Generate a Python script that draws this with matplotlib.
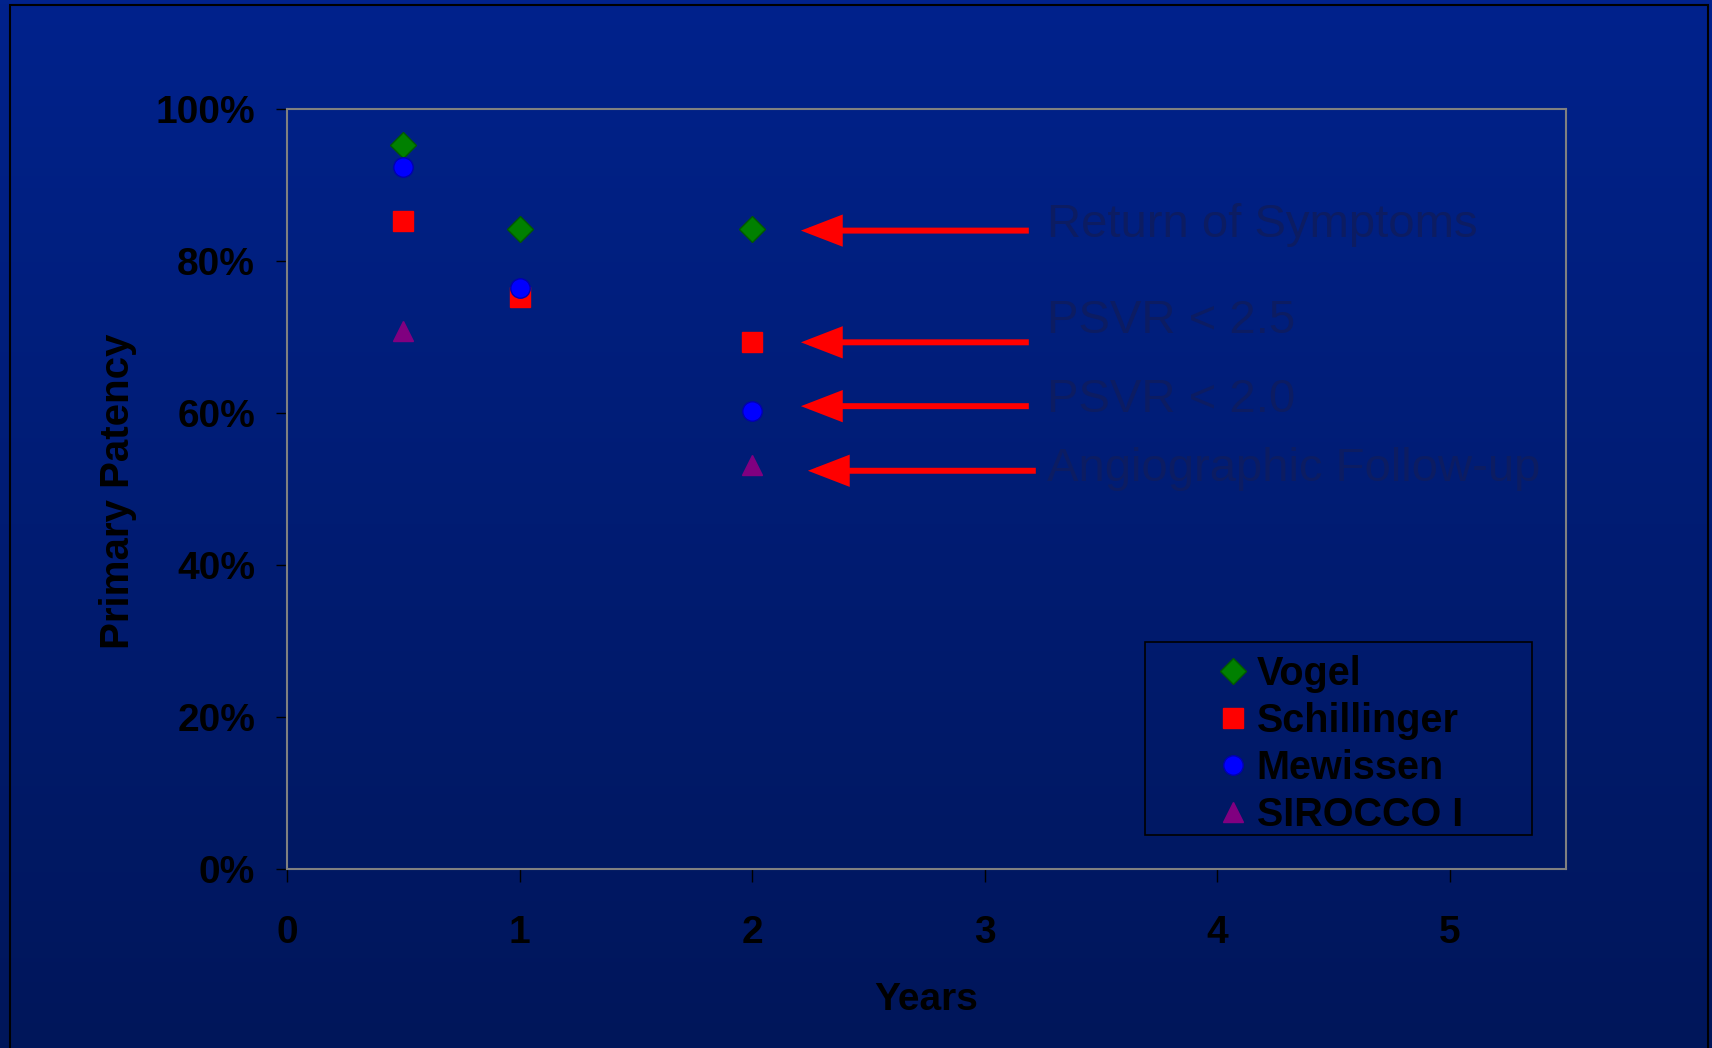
import numpy as np
import matplotlib.pyplot as plt
from matplotlib.patches import Rectangle
from matplotlib.ticker import PercentFormatter

# --- data ---
years = [0.5, 1, 2]
vogel = [95.3, 84.2, 84.2]
schillinger = [85.2, 75.3, 69.3]
mewissen = [92.4, 76.4, 60.2]
sirocco_years = [0.5, 2]
sirocco = [70.8, 53.2]

notes = ["Return of Symptoms", "PSVR < 2.5", "PSVR < 2.0", "Angiographic Follow-up"]
note_y = [83.2, 70.5, 60.1, 51.1]
arrow_y = [84.0, 69.3, 60.9, 52.4]
arrow_tip = [2.21, 2.21, 2.21, 2.24]
arrow_tail = [3.19, 3.19, 3.19, 3.22]

W, H = 1712, 1048
fig = plt.figure(figsize=(W / 100, H / 100), dpi=100)
plt.rcParams['font.family'] = ['Liberation Sans', 'DejaVu Sans']

# background gradient (slide style)
bg = fig.add_axes([0, 0, 1, 1], zorder=-10)
top = np.array([0x00, 0x22, 0x8c]) / 255
bottom = np.array([0x00, 0x16, 0x5a]) / 255
t = np.linspace(0, 1, 256)[:, None]
grad = top[None, :] * (1 - t) + bottom[None, :] * t
bg.imshow(grad[:, None, :].repeat(2, axis=1), aspect='auto', extent=[0, 1, 0, 1])
bg.set_axis_off()
fig.patches.append(Rectangle((10 / W, -0.01), 1698 / W, 1 - 5 / H + 0.01,
                             transform=fig.transFigure, fill=False,
                             edgecolor='black', lw=1.5))

ax = fig.add_axes([287 / W, 1 - 869 / H, (1566 - 287) / W, (869 - 109) / H])
ax.patch.set_alpha(0)

ax.plot(years, vogel, 'D', color='#008000', mec='#005a00', ms=13, label='Vogel', zorder=3)
ax.plot(years, schillinger, 's', color='#ff0000', mec='#ff0000', ms=14, label='Schillinger', zorder=3)
ax.plot(years, mewissen, 'o', color='#0000ff', mec='#0000b0', ms=14, label='Mewissen', zorder=3)
ax.plot(sirocco_years, sirocco, '^', color='#800080', mec='#800080', ms=15, label='SIROCCO I', zorder=3)

for y, x0, x1 in zip(arrow_y, arrow_tip, arrow_tail):
    ax.annotate('', xy=(x0, y), xytext=(x1, y),
                arrowprops=dict(arrowstyle='-|>,head_length=2.2,head_width=0.85',
                                color='#ff0000', lw=4.3, shrinkA=0, shrinkB=0,
                                mutation_scale=10, joinstyle='miter', capstyle='butt'))
for txt, y in zip(notes, note_y):
    ax.text(3.27, y, txt, fontsize=34, color='#0c1c62', va='baseline', ha='left')

ax.set_xlim(0, 5.5)
ax.set_ylim(0, 100)
ax.set_xticks([0, 1, 2, 3, 4, 5])
ax.set_yticks([0, 20, 40, 60, 80, 100])
ax.yaxis.set_major_formatter(PercentFormatter(decimals=0))
for s in ax.spines.values():
    s.set_color('#808080')
    s.set_linewidth(1.5)
ax.tick_params(axis='y', length=8, width=1, color='black', pad=15, labelsize=28)
ax.tick_params(axis='x', length=9, width=1, color='black', pad=24, labelsize=28)
for lab in ax.get_xticklabels() + ax.get_yticklabels():
    lab.set_fontweight('bold')
ax.set_xlabel('Years', fontsize=28, fontweight='bold')
ax.xaxis.set_label_coords((926 - 287) / (1566 - 287), -(982 - 869) / (869 - 109))
ax.set_ylabel('Primary Patency', fontsize=29, fontweight='bold')
ax.yaxis.set_label_coords(-(287 - 137) / (1566 - 287), (869 - 491) / (869 - 109))

leg = ax.legend(loc='upper left', bbox_to_anchor=(1217 / W, 1 - 655 / H),
                bbox_transform=fig.transFigure, frameon=False, borderpad=0,
                borderaxespad=0, handlelength=0.8, handletextpad=0.2,
                labelspacing=0.23, prop={'size': 28.5, 'weight': 'bold'})
fig.patches.append(Rectangle((1145 / W, 1 - 835 / H), 387 / W, 193 / H,
                             transform=fig.transFigure, fill=False,
                             edgecolor='black', lw=1.2))

fig.savefig('out.png', dpi=100)
